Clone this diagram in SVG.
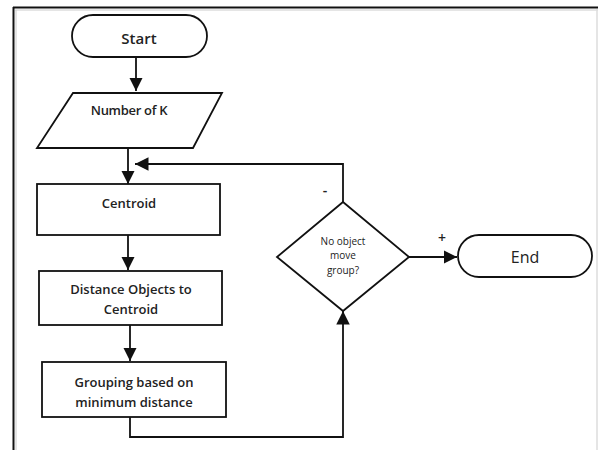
<svg xmlns="http://www.w3.org/2000/svg" width="598" height="450" viewBox="0 0 598 450">
<style>
.sh{fill:#fff;stroke:#111;stroke-width:1.8}
.ln{fill:none;stroke:#111;stroke-width:1.8}
text{font-family:"Open Sans","Liberation Sans",sans-serif;fill:#222;text-anchor:middle;font-weight:600}
.t{font-size:13px}
.d{font-size:10px;font-weight:400}
</style>
<defs>
<marker id="a" viewBox="0 0 10 10" refX="10" refY="5" markerWidth="7.5" markerHeight="7.5" orient="auto">
<path d="M0,0 L10,5 L0,10 z" fill="#111"/>
</marker>
</defs>
<rect width="598" height="450" fill="#fff"/>
<g id="frame">
<line x1="13" y1="7.5" x2="598" y2="7.5" stroke="#111" stroke-width="2"/>
<line x1="13.5" y1="7" x2="13.5" y2="450" stroke="#111" stroke-width="2"/>
<line x1="15" y1="10" x2="598" y2="10" stroke="#ccc" stroke-width="1"/>
<line x1="16" y1="10" x2="16" y2="450" stroke="#ccc" stroke-width="1"/>
<line x1="597" y1="9" x2="597" y2="450" stroke="#ddd" stroke-width="1.5"/>
</g>
<g id="connectors">
<line class="ln" x1="136" y1="57" x2="136" y2="91" marker-end="url(#a)"/>
<line class="ln" x1="128" y1="148" x2="128" y2="184" marker-end="url(#a)"/>
<line class="ln" x1="128" y1="235" x2="128" y2="270" marker-end="url(#a)"/>
<line class="ln" x1="130" y1="325" x2="130" y2="361" marker-end="url(#a)"/>
<polyline class="ln" points="130,417 130,437 343,437 343,311" marker-end="url(#a)"/>
<polyline class="ln" points="343,202 343,164 135,164" marker-end="url(#a)"/>
<line class="ln" x1="409" y1="257" x2="457" y2="257" marker-end="url(#a)"/>
<text x="325" y="195" style="font-size:14px">-</text>
<text x="442" y="243" style="font-size:14px">+</text>
</g>
<g id="start">
<rect class="sh" x="72" y="15" width="135" height="42" rx="21"/>
<text x="139" y="44" style="font-size:15px">Start</text>
</g>
<g id="numk">
<polygon class="sh" points="73,93 222,93 193,148 37,148"/>
<text x="129" y="115" class="t" style="letter-spacing:-0.3px">Number of K</text>
</g>
<g id="centroid">
<rect class="sh" x="37" y="184" width="183" height="51"/>
<text x="129" y="208" class="t">Centroid</text>
</g>
<g id="distance">
<rect class="sh" x="39" y="271" width="183" height="54"/>
<text x="131" y="294" class="t">Distance Objects to</text>
<text x="131" y="314" class="t">Centroid</text>
</g>
<g id="grouping">
<rect class="sh" x="42" y="362" width="184" height="55"/>
<text x="134" y="387" class="t">Grouping based on</text>
<text x="134" y="407" class="t">minimum distance</text>
</g>
<g id="decision">
<polygon class="sh" points="343,202 409,257 343,311 277,257"/>
<text x="343" y="245" class="d">No object</text>
<text x="343" y="259" class="d">move</text>
<text x="343" y="274" class="d">group?</text>
</g>
<g id="end">
<rect class="sh" x="458" y="235" width="134" height="42" rx="21"/>
<text x="525" y="263" style="font-size:16px;font-weight:400">End</text>
</g>
</svg>
